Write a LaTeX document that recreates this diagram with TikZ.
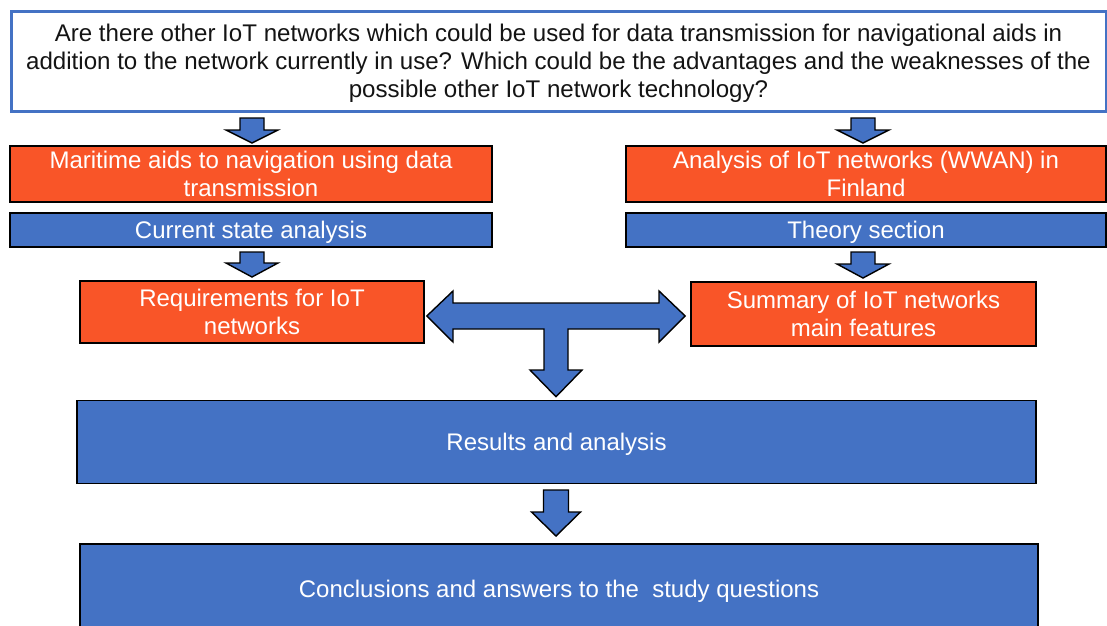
\documentclass[tikz,border=0pt]{standalone}
\usepackage{fontspec}
\setmainfont{Liberation Sans}
\usetikzlibrary{calc}
\definecolor{boxblue}{RGB}{68,114,196}
\definecolor{boxorange}{RGB}{249,85,40}
\definecolor{txtdark}{RGB}{20,20,20}

% downward block arrow: tip x, tip y, total length, head length, shaft half width, head half width
\newcommand\blockdown[6]{%
  \draw[blockarrow] (#1-#5,#2-#3) -- (#1+#5,#2-#3) -- (#1+#5,#2-#4) -- (#1+#6,#2-#4)
    -- (#1,#2) -- (#1-#6,#2-#4) -- (#1-#5,#2-#4) -- cycle;}

\tikzset{
  base/.style={draw=black, line width=1.6pt, inner sep=0pt, align=center,
    text=white, text depth=0pt, font=\fontsize{24}{28}\selectfont},
  orangebox/.style={base, fill=boxorange},
  bluebox/.style={base, fill=boxblue},
  questionbox/.style={draw=boxblue, line width=3pt, fill=white, inner sep=0pt,
    align=center, text=txtdark, text depth=-4pt, font=\fontsize{24.1}{28}\selectfont},
  blockarrow/.style={draw=black, line width=1.4pt, fill=boxblue, line join=miter},
}

\begin{document}
\begin{tikzpicture}[x=1pt, y=-1pt]
  \useasboundingbox (0,0) rectangle (1107,625);
  \clip (0,0) rectangle (1107,625);

  \node[questionbox, minimum width=1095, minimum height=100] (q) at (558.5,61)
    {Are there other IoT networks which could be used for data transmission for navigational aids in\\
     addition to the network currently in use? Which could be the advantages and the weaknesses of the\\
     possible other IoT network technology?};

  \node[orangebox, minimum width=482, minimum height=56] (m1) at (251,174)
    {Maritime aids to navigation using data\\transmission};
  \node[bluebox, minimum width=482, minimum height=34] (c1) at (251,230)
    {Current state analysis};

  \node[orangebox, minimum width=480, minimum height=56] (a1) at (866,174)
    {Analysis of IoT networks (WWAN) in\\Finland};
  \node[bluebox, minimum width=480, minimum height=34] (t1) at (866,230)
    {Theory section};

  \node[orangebox, minimum width=344, minimum height=62] (r1) at (252,312)
    {Requirements for IoT\\networks};
  \node[orangebox, minimum width=345, minimum height=64] (s1) at (863.5,314)
    {Summary of IoT networks\\main features};

  \node[bluebox, minimum width=959, minimum height=83] (res) at (556.5,442)
    {Results and analysis};
  \node[bluebox, minimum width=958, minimum height=90] (con) at (559,589)
    {Conclusions and answers to the~~study questions};

  % block arrows between the stages
  \blockdown{252}{143}{25}{13}{12}{26}
  \blockdown{863}{143}{25}{13}{12}{26}
  \blockdown{252}{277}{25}{14}{12}{26}
  \blockdown{863}{278}{26}{14}{12}{26}
  \blockdown{556}{536}{46}{24}{12.5}{24.5}

  % T-shaped double arrow feeding the results
  \draw[blockarrow] ($(r1.east)+(2,4)$) -- (453,291) -- (453,303) -- (659,303) -- (659,291)
    -- ($(s1.west)+(-5,2)$) -- (659,342) -- (659,329) -- (568,329) -- (568,370)
    -- (582,370) -- ($(res.north)+(-0.5,-3)$) -- (530,370) -- (544,370) -- (544,329)
    -- (453,329) -- (453,342) -- cycle;
\end{tikzpicture}
\end{document}
